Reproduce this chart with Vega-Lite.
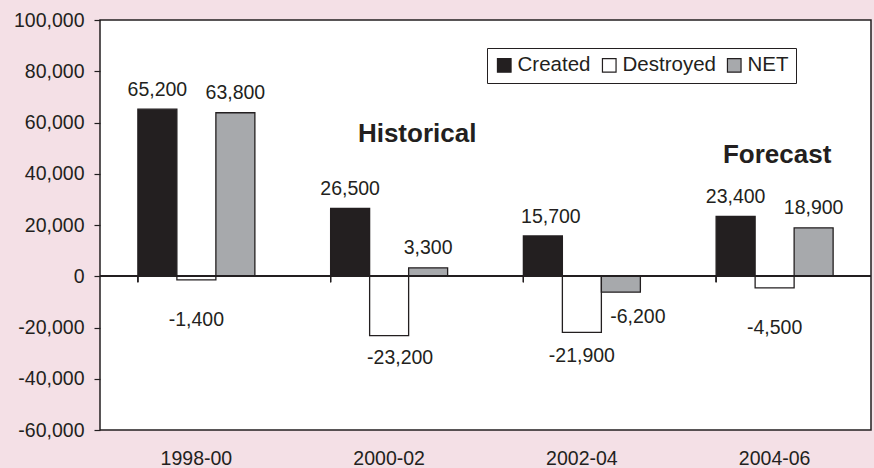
{
  "$schema": "https://vega.github.io/schema/vega-lite/v6.json",
  "width": 771,
  "height": 410,
  "autosize": "none",
  "padding": {"left": 100, "top": 20, "right": 3, "bottom": 38},
  "background": "#F4E0E6",
  "config": {
    "locale": {"number": {"decimal": ".", "thousands": ",", "grouping": [3], "currency": ["$", ""], "minus": "-"}},
    "font": "Liberation Sans",
    "view": {"fill": "white", "stroke": "#231F20", "strokeWidth": 1.5},
    "axis": {"labelFont": "Liberation Sans", "labelColor": "#231F20", "labelFontSize": 19.5, "grid": false, "title": null},
    "legend": {"labelFont": "Liberation Sans"},
    "text": {"fontSize": 19.5, "color": "#231F20", "baseline": "alphabetic"}
  },
  "data": {
    "values": [
      {"period": "1998-00", "series": "Created", "value": 65200},
      {"period": "1998-00", "series": "Destroyed", "value": -1400},
      {"period": "1998-00", "series": "NET", "value": 63800},
      {"period": "2000-02", "series": "Created", "value": 26500},
      {"period": "2000-02", "series": "Destroyed", "value": -23200},
      {"period": "2000-02", "series": "NET", "value": 3300},
      {"period": "2002-04", "series": "Created", "value": 15700},
      {"period": "2002-04", "series": "Destroyed", "value": -21900},
      {"period": "2002-04", "series": "NET", "value": -6200},
      {"period": "2004-06", "series": "Created", "value": 23400},
      {"period": "2004-06", "series": "Destroyed", "value": -4500},
      {"period": "2004-06", "series": "NET", "value": 18900}
    ]
  },
  "encoding": {
    "x": {
      "field": "period", "type": "nominal", "sort": null,
      "scale": {"paddingInner": 0.393, "paddingOuter": 0.1965},
      "axis": {"orient": "bottom", "domain": false, "ticks": false, "labelAngle": 0, "labelPadding": 19}
    },
    "y": {
      "field": "value", "type": "quantitative",
      "scale": {"domain": [-60000, 100000], "nice": false, "zero": false},
      "axis": {"values": [-60000, -40000, -20000, 0, 20000, 40000, 60000, 80000, 100000], "format": ",.0f", "domain": false, "tickSize": 6, "tickColor": "#231F20", "tickWidth": 1.2, "labelPadding": 10}
    },
    "xOffset": {"field": "series", "type": "nominal", "sort": ["Created", "Destroyed", "NET"], "scale": {"paddingInner": 0, "paddingOuter": 0}},
    "text": {"field": "value", "type": "quantitative", "format": ","}
  },
  "layer": [
    {
      "mark": {"type": "bar", "stroke": "#231F20", "strokeWidth": 1.3},
      "encoding": {
        "text": null,
        "color": {
          "field": "series", "type": "nominal",
          "scale": {"domain": ["Created", "Destroyed", "NET"], "range": ["#231F20", "#FFFFFF", "#A7A9AC"]},
          "legend": {
            "title": null, "orient": "none", "legendX": 387, "legendY": 28, "direction": "horizontal",
            "fillColor": "white", "strokeColor": "#231F20", "padding": 7,
            "symbolType": "square", "symbolSize": 185, "symbolStrokeColor": "#231F20", "symbolStrokeWidth": 1.2,
            "labelFontSize": 20.5, "labelColor": "#231F20", "labelOffset": 3, "columnPadding": 8
          }
        }
      }
    },
    {
      "mark": {"type": "rule", "color": "#231F20", "strokeWidth": 1.5},
      "encoding": {"x": null, "xOffset": null, "text": null, "y": {"datum": 0}}
    },
    {
      "mark": {"type": "rule", "color": "#231F20", "strokeWidth": 1.2},
      "encoding": {
        "x": {"field": "period", "type": "nominal", "sort": null, "bandPosition": 0},
        "xOffset": null,
        "text": null,
        "y": {"datum": 0},
        "y2": {"datum": -2340}
      }
    },
    {
      "transform": [{"filter": "datum.value >= 0 && datum.period != '2002-04'"}],
      "mark": {"type": "text", "dy": -13.5}
    },
    {
      "transform": [{"filter": "datum.value >= 0 && datum.period == '2002-04'"}],
      "mark": {"type": "text", "dy": -13.5, "dx": 8}
    },
    {
      "transform": [{"filter": "datum.series == 'Destroyed' && datum.value > -10000"}],
      "mark": {"type": "text", "dy": 46}
    },
    {
      "transform": [{"filter": "datum.series == 'Destroyed' && datum.period == '2000-02'"}],
      "mark": {"type": "text", "dy": 28, "dx": 11}
    },
    {
      "transform": [{"filter": "datum.series == 'Destroyed' && datum.period == '2002-04'"}],
      "mark": {"type": "text", "dy": 30}
    },
    {
      "transform": [{"filter": "datum.series == 'NET' && datum.value < 0"}],
      "mark": {"type": "text", "dy": 31, "dx": 17}
    },
    {
      "transform": [{"filter": "datum.period == '2000-02' && datum.series == 'Created'"}],
      "mark": {"type": "text", "text": "Historical", "fontSize": 26, "fontWeight": "bold", "dx": 28},
      "encoding": {
        "xOffset": null,
        "text": null,
        "y": {"datum": 52300, "type": "quantitative"}
      }
    },
    {
      "transform": [{"filter": "datum.period == '2004-06' && datum.series == 'Created'"}],
      "mark": {"type": "text", "text": "Forecast", "fontSize": 26, "fontWeight": "bold", "dx": 2.5},
      "encoding": {
        "xOffset": null,
        "text": null,
        "y": {"datum": 44100, "type": "quantitative"}
      }
    }
  ]
}
